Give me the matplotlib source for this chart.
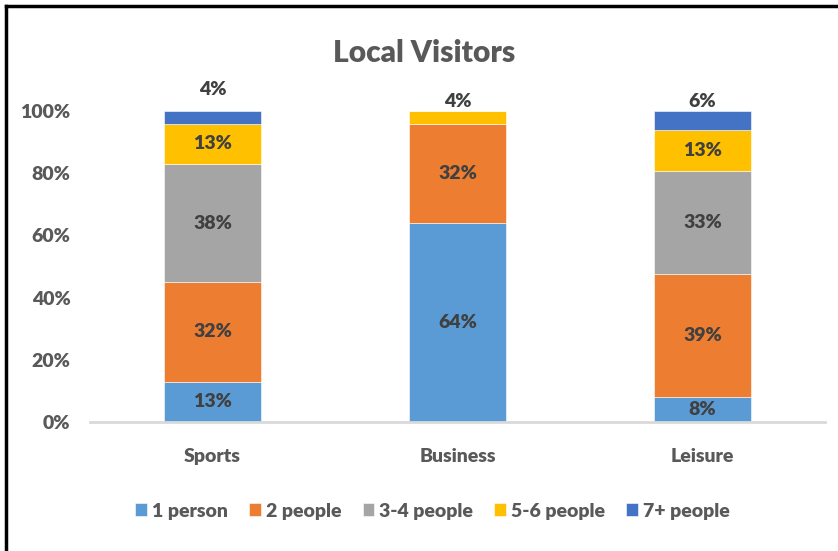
import numpy as np
import matplotlib.pyplot as plt
from matplotlib.lines import Line2D

plt.rcParams['font.family'] = ['Lato', 'DejaVu Sans']
plt.rcParams['font.weight'] = 'heavy'

categories = ['Sports', 'Business', 'Leisure']
groups = ['1 person', '2 people', '3-4 people', '5-6 people', '7+ people']
one_person = [13, 64, 8]
two_people = [32, 32, 39]
three_four = [38, 0, 33]
five_six = [13, 4, 13]
seven_plus = [4, 0, 6]
colors = ['#5B9BD5', '#ED7D31', '#A5A5A5', '#FFC000', '#4472C4']

series = np.array([one_person, two_people, three_four, five_six, seven_plus], dtype=float)
shares = series / series.sum(axis=0)  # 100% stacked

fig = plt.figure(figsize=(8.38, 5.51), dpi=100)
ax = fig.add_axes([0.1074, 0.234, 0.877, 0.5644])

x = np.arange(len(categories))
bottom = np.zeros(len(categories))
for vals, pct, name, col in zip(series, shares, groups, colors):
    ax.bar(x, pct, 0.395, bottom=bottom, color=col, label=name,
           edgecolor='white', linewidth=0.4)
    for i in range(len(categories)):
        if vals[i] == 0:
            continue
        if vals[i] <= 6:
            # small top segment: label sits above the bar
            ytxt = bottom[i] + pct[i] + (0.07 if i == 0 else 0.03)
        else:
            ytxt = bottom[i] + pct[i] / 2
        ax.text(x[i], ytxt, f'{vals[i]:.0f}%', ha='center', va='center',
                fontsize=14, color='#404040')
    bottom += pct

ax.set_xlim(-0.5, 2.5)
ax.set_ylim(0, 1)
ax.set_yticks(np.linspace(0, 1, 6))
ax.set_yticklabels([f'{v}%' for v in range(0, 101, 20)])
ax.set_xticks(x)
ax.set_xticklabels(categories)
ax.tick_params(length=0, labelsize=14, labelcolor='#595959')
ax.tick_params(axis='y', pad=14)
ax.tick_params(axis='x', pad=19)
for s in ['top', 'right', 'left']:
    ax.spines[s].set_visible(False)
ax.spines['bottom'].set_color('#D9D9D9')
ax.spines['bottom'].set_linewidth(2)

fig.text(0.506, 1 - 53 / 551, 'Local Visitors', ha='center', va='center',
         fontsize=21.5, color='#595959')

leg = fig.legend(loc='center', bbox_to_anchor=(0.516, 1 - 511 / 551), ncol=5,
                 frameon=False, handlelength=0.6, handleheight=0.6,
                 handletextpad=0.25, columnspacing=1.1, fontsize=14)
for t in leg.get_texts():
    t.set_color('#595959')

# outer frame (left and top edges)
fig.add_artist(Line2D([6 / 838, 6 / 838], [0, 1 - 6 / 551], color='black', lw=2.5))
fig.add_artist(Line2D([6 / 838, 1], [1 - 6 / 551, 1 - 6 / 551], color='black', lw=2.5))

fig.savefig('out.png', dpi=100)
